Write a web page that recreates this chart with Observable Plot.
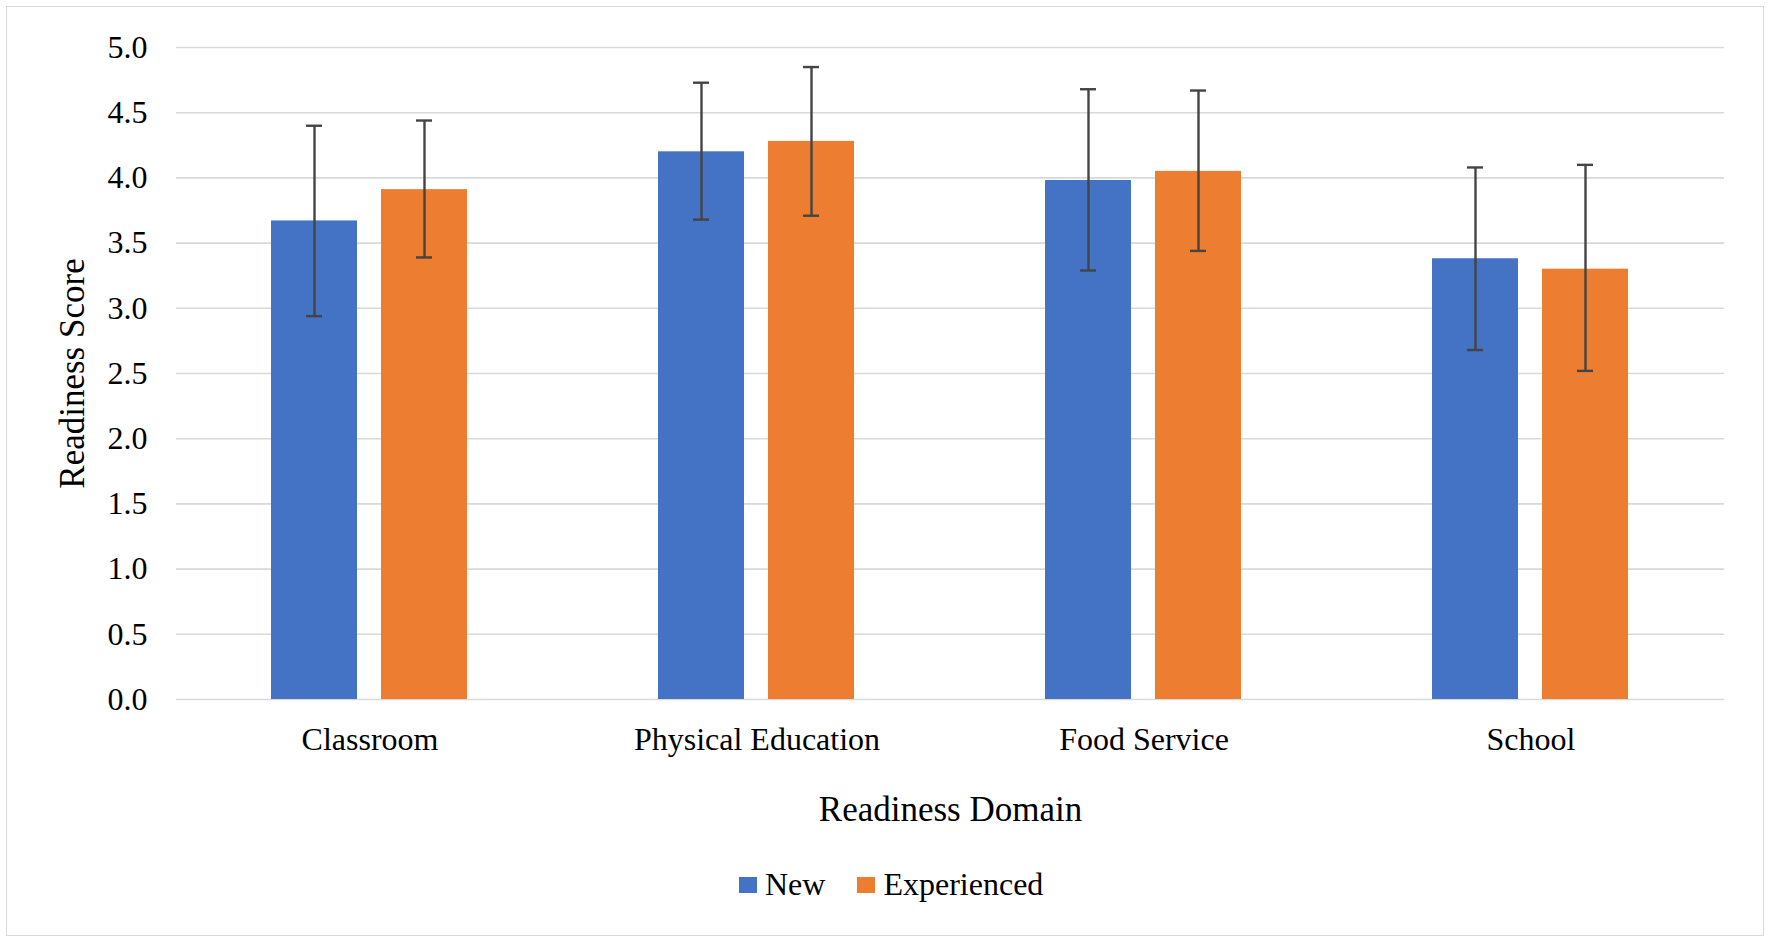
<!DOCTYPE html>
<html>
<head>
<meta charset="utf-8">
<script src="https://cdn.jsdelivr.net/npm/d3@7"></script>
<script src="https://cdn.jsdelivr.net/npm/@observablehq/plot@0.6"></script>
<style>
  html, body { margin: 0; padding: 0; background: #fff; }
  #wrap { position: relative; width: 1772px; height: 944px; overflow: hidden; font-family: "Liberation Serif", "Times New Roman", serif; }
  #frame { position: absolute; left: 6px; top: 6px; width: 1756px; height: 928px; border: 1.5px solid #d9d9d9; box-sizing: content-box; pointer-events: none; }
  #chart { position: absolute; left: 0; top: 0; }
  #legend { position: absolute; top: 866px; left: 739px; display: flex; align-items: center; font-size: 32px; color: #000; white-space: nowrap; }
  .sw { display: inline-block; width: 18px; height: 16px; margin-right: 8px; }
  .item { display: flex; align-items: center; }
</style>
</head>
<body>
<div id="wrap">
  <div id="chart"></div>
  <div id="legend"></div>
  <div id="frame"></div>
</div>
<script>
const domains = ["Classroom", "Physical Education", "Food Service", "School"];
const groups = ["New", "Experienced"];
const newMean = [3.67, 4.20, 3.98, 3.38];
const newLow  = [2.94, 3.68, 3.29, 2.68];
const newHigh = [4.40, 4.73, 4.68, 4.08];
const expMean = [3.91, 4.28, 4.05, 3.30];
const expLow  = [3.39, 3.71, 3.44, 2.52];
const expHigh = [4.44, 4.85, 4.67, 4.10];
const yTicks = [0, 0.5, 1, 1.5, 2, 2.5, 3, 3.5, 4, 4.5, 5];
const colors = ["#4472C4", "#ED7D31"];

const rows = [];
domains.forEach((d, i) => {
  rows.push({domain: d, group: "New", mean: newMean[i], lo: newLow[i], hi: newHigh[i]});
  rows.push({domain: d, group: "Experienced", mean: expMean[i], lo: expLow[i], hi: expHigh[i]});
});

const plot = Plot.plot({
  width: 1772,
  height: 850,
  marginTop: 47,
  marginBottom: 151,
  marginLeft: 176,
  marginRight: 48,
  style: {fontFamily: "Liberation Serif, Times New Roman, serif", fontSize: "32px", color: "#000", background: "transparent"},
  fx: {domain: domains, padding: 0, axis: "bottom", tickSize: 0, tickPadding: 28,
       label: "Readiness Domain", labelAnchor: "center", labelOffset: 121, labelArrow: "none"},
  x: {domain: groups, paddingInner: 0.217, paddingOuter: 0.86, axis: null},
  y: {domain: [0, 5], ticks: yTicks, tickFormat: d3.format(".1f"), tickSize: 0, tickPadding: 29,
      label: "Readiness Score", labelAnchor: "center", labelOffset: 117, labelArrow: "none"},
  color: {domain: groups, range: colors},
  marks: [
    Plot.gridY(yTicks, {stroke: "#d9d9d9", strokeOpacity: 1, strokeWidth: 1.6}),
    Plot.barY(rows, {fx: "domain", x: "group", y: "mean", fill: "group"}),
    Plot.ruleX(rows, {fx: "domain", x: "group", y1: "lo", y2: "hi", stroke: "#444", strokeWidth: 2.4}),
    Plot.tickY(rows, {fx: "domain", x: "group", y: "hi", stroke: "#444", strokeWidth: 2.4, insetLeft: 35, insetRight: 35}),
    Plot.tickY(rows, {fx: "domain", x: "group", y: "lo", stroke: "#444", strokeWidth: 2.4, insetLeft: 35, insetRight: 35})
  ]
});
plot.querySelectorAll('g[aria-label="y-axis label"] text, g[aria-label="fx-axis label"] text')
  .forEach(t => t.setAttribute("font-size", "35px"));
document.getElementById("chart").appendChild(plot);

const legend = document.getElementById("legend");
groups.forEach((g, i) => {
  const item = document.createElement("span");
  item.className = "item";
  item.style.marginRight = i === 0 ? "32px" : "0";
  const sw = document.createElement("span");
  sw.className = "sw";
  sw.style.background = colors[i];
  item.appendChild(sw);
  item.appendChild(document.createTextNode(g));
  legend.appendChild(item);
});
</script>
</body>
</html>
